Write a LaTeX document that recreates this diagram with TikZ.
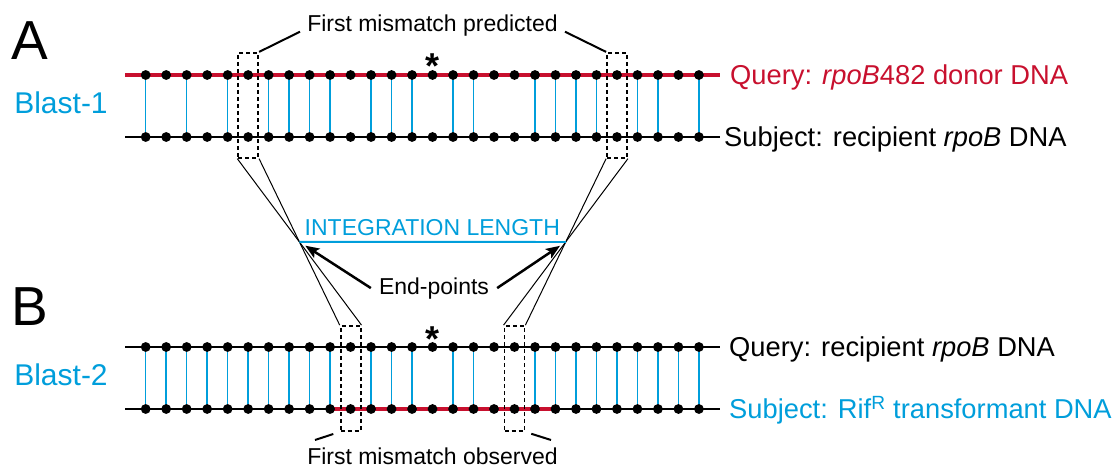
\documentclass[tikz,border=0pt]{standalone}
\usepackage{fontspec}
\setmainfont{Liberation Sans}
\usetikzlibrary{arrows.meta,calc}
\definecolor{dred}{RGB}{200,16,46}
\definecolor{cblue}{RGB}{0,158,219}
\tikzset{
 dot/.style={circle,fill=black,inner sep=0pt,minimum size=9.8pt},
 rung/.style={cblue,line width=1.5pt},
 backbone/.style={black,line width=2.2pt},
 redbone/.style={dred,line width=4pt},
 mbox/.style={draw,dash pattern=on 4pt off 3pt,line width=1.8pt,minimum width=20pt,minimum height=105pt,inner sep=0pt},
 thinline/.style={line width=1pt},
 callout/.style={line width=2pt},
 arr/.style={line width=2.5pt,-{Stealth[length=14pt,width=11pt,inset=3pt]}},
 lbl/.style={inner sep=0pt,font=\fontsize{27.3}{32}\selectfont},
 smalltxt/.style={inner ysep=0pt,inner xsep=7pt,font=\fontsize{23}{27}\selectfont},
 big/.style={inner sep=0pt,font=\fontsize{55}{60}\selectfont},
 blast/.style={inner sep=0pt,text=cblue,font=\fontsize{30}{34}\selectfont},
 star/.style={inner sep=0pt,font=\fontsize{36}{40}\selectfont\bfseries},
}
\begin{document}
\begin{tikzpicture}[x=1pt,y=-1pt]
\useasboundingbox (0,0) rectangle (1117,468);

% dot coordinates
\foreach \i in {0,...,27} {
  \pgfmathsetmacro\xx{145.7+20.49*\i}
  \coordinate (ct\i) at (\xx,75);
  \coordinate (cb\i) at (\xx,137);
  \coordinate (cp\i) at (\xx,347);
  \coordinate (cq\i) at (\xx,409);
}
\coordinate (tLs) at (125,75);   \coordinate (tLe) at (720,75);
\coordinate (bLs) at (125,137);  \coordinate (bLe) at (720,137);
\coordinate (pLs) at (125,347);  \coordinate (pLe) at (720,347);
\coordinate (qLs) at (125,409);  \coordinate (qLe) at (720,409);

% rungs
\foreach \i in {0,2,4,6,7,8,9,11,12,13,15,16,19,20,21,22,24,25,27}
  \draw[rung] (ct\i) -- (cb\i);
\foreach \i in {0,...,9,11,12,13,15,16,19,20,...,27}
  \draw[rung] (cp\i) -- (cq\i);

% backbones
\draw[redbone] (tLs) -- (tLe);
\draw[backbone] (bLs) -- (bLe);
\draw[backbone] (pLs) -- (pLe);
\draw[backbone] (qLs) -- (qLe);
\draw[redbone] (cq9) -- (cq20);

% dots
\foreach \i in {0,...,27} {
  \node[dot] (t\i) at (ct\i) {};
  \node[dot] (b\i) at (cb\i) {};
  \node[dot] (p\i) at (cp\i) {};
  \node[dot] (q\i) at (cq\i) {};
}

% asterisks
\node[star,anchor=north] (s1) at (432.7,53.3) {*};
\node[star,anchor=north] (s2) at (432.7,326.7) {*};

% mismatch boxes
\node[mbox] (tl) at (248.2,105.3) {};
\node[mbox] (tr) at (617.0,105.3) {};
\node[mbox] (bl) at (350.6,378.5) {};
\node[mbox] (br) at (514.5,378.5) {};

% crossing lines
\draw[thinline] (tl.south west) -- (bl.north east);
\draw[thinline] (tl.south east) -- (bl.north west);
\draw[thinline] (tr.south west) -- (br.north east);
\draw[thinline] (tr.south east) -- (br.north west);

\coordinate (iL) at (intersection of tl.south west--bl.north east and tl.south east--bl.north west);
\coordinate (iR) at (intersection of tr.south west--br.north east and tr.south east--br.north west);

% integration length
\draw[cblue,line width=1.8pt] (iL) -- (iR);
\node[smalltxt,text=cblue,anchor=base] (il) at (432.3,235) {INTEGRATION LENGTH};

% end-points
\node[smalltxt,inner xsep=8pt,anchor=base] (ep) at (434,294) {End-points};
\draw[arr,shorten >=7pt] (ep.west) -- (iL);
\draw[arr,shorten >=7pt] (ep.east) -- (iR);

% callouts
\node[smalltxt,anchor=base] (pred) at (432.5,31.7) {First mismatch predicted};
\draw[callout] (pred.base west) -- (tl.north east);
\draw[callout] (pred.base east) -- (tr.north west);

\node[smalltxt,anchor=base] (obs) at (432.5,464.8) {First mismatch observed};
\coordinate (oL) at (315,440);
\coordinate (oR) at (551,440);
\draw[callout] (oL) -- ($(oL)!0.74!(bl.south west)$);
\draw[callout] (oR) -- ($(oR)!0.77!(br.south east)$);

% labels
\node[big,anchor=base west] (A) at (11,60) {A};
\node[big,anchor=base west] (B) at (11,325) {B};
\node[blast,anchor=base] (bl1) at (61,114) {Blast-1};
\node[blast,anchor=base] (bl2) at (61,385) {Blast-2};

\node[lbl,text=dred,anchor=base west] (lq1) at (730,84.5) {Query: \textit{rpoB}482 donor DNA};
\node[lbl,anchor=base west] (ls1) at (724,146.5) {Subject: recipient \textit{rpoB} DNA};
\node[lbl,anchor=base west] (lq2) at (729,356.5) {Query: recipient \textit{rpoB} DNA};
\node[lbl,text=cblue,anchor=base west] (ls2) at (729,418.5) {Subject: Rif\textsuperscript{R} transformant DNA};
\end{tikzpicture}
\end{document}
